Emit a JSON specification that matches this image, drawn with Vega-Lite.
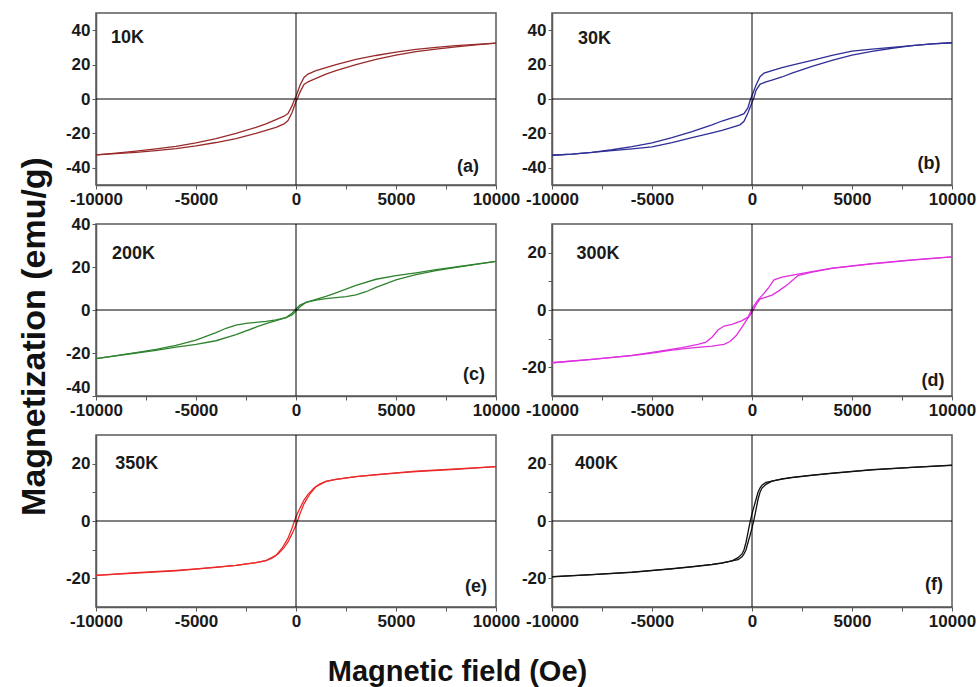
{
 "$schema": "https://vega.github.io/schema/vega-lite/v6.json",
 "padding": {"left": 16, "top": 11, "right": 5, "bottom": 5},
 "background": "white",
 "columns": 2,
 "spacing": {"row": 39, "column": 56},
 "bounds": "flush",
 "datasets": {
  "labels": [
   {"p":"a","H":-8425,"M":35.7,"t":"10K"},{"p":"a","H":8600,"M":-39.8,"t":"(a)"},
   {"p":"b","H":-7875,"M":34.7,"t":"30K"},{"p":"b","H":8850,"M":-37.8,"t":"(b)"},
   {"p":"c","H":-8125,"M":26.1,"t":"200K"},{"p":"c","H":8900,"M":-30,"t":"(c)"},
   {"p":"d","H":-7700,"M":19.6,"t":"300K"},{"p":"d","H":9050,"M":-24.8,"t":"(d)"},
   {"p":"e","H":-7958,"M":20,"t":"350K"},{"p":"e","H":9000,"M":-22.9,"t":"(e)"},
   {"p":"f","H":-7775,"M":20,"t":"400K"},{"p":"f","H":9100,"M":-22.4,"t":"(f)"}
  ],
  "loops": [
   {"p":"a","b":"u","H":10000,"M":32.5},{"p":"a","b":"u","H":9000,"M":31.8},{"p":"a","b":"u","H":8000,"M":31},{"p":"a","b":"u","H":7000,"M":30},{"p":"a","b":"u","H":6000,"M":28.8},{"p":"a","b":"u","H":5000,"M":27.2},{"p":"a","b":"u","H":4000,"M":25.3},{"p":"a","b":"u","H":3000,"M":23},{"p":"a","b":"u","H":2000,"M":20},{"p":"a","b":"u","H":1500,"M":18.3},{"p":"a","b":"u","H":1000,"M":16.5},{"p":"a","b":"u","H":600,"M":14.5},{"p":"a","b":"u","H":400,"M":12.5},{"p":"a","b":"u","H":200,"M":8},{"p":"a","b":"u","H":0,"M":1.5},{"p":"a","b":"u","H":-100,"M":-1},{"p":"a","b":"u","H":-200,"M":-4},{"p":"a","b":"u","H":-400,"M":-8.5},{"p":"a","b":"u","H":-600,"M":-10},{"p":"a","b":"u","H":-1000,"M":-12},{"p":"a","b":"u","H":-1500,"M":-14.5},{"p":"a","b":"u","H":-2000,"M":-16.5},{"p":"a","b":"u","H":-3000,"M":-20},{"p":"a","b":"u","H":-4000,"M":-23},{"p":"a","b":"u","H":-5000,"M":-25.5},{"p":"a","b":"u","H":-6000,"M":-27.5},{"p":"a","b":"u","H":-7000,"M":-29},{"p":"a","b":"u","H":-8000,"M":-30.3},{"p":"a","b":"u","H":-9000,"M":-31.5},{"p":"a","b":"u","H":-10000,"M":-32.5},
   {"p":"a","b":"l","H":-10000,"M":-32.5},{"p":"a","b":"l","H":-9000,"M":-31.8},{"p":"a","b":"l","H":-8000,"M":-31},{"p":"a","b":"l","H":-7000,"M":-30},{"p":"a","b":"l","H":-6000,"M":-28.8},{"p":"a","b":"l","H":-5000,"M":-27.2},{"p":"a","b":"l","H":-4000,"M":-25.3},{"p":"a","b":"l","H":-3000,"M":-23},{"p":"a","b":"l","H":-2000,"M":-20},{"p":"a","b":"l","H":-1500,"M":-18.3},{"p":"a","b":"l","H":-1000,"M":-16.5},{"p":"a","b":"l","H":-600,"M":-14.5},{"p":"a","b":"l","H":-400,"M":-12.5},{"p":"a","b":"l","H":-200,"M":-8},{"p":"a","b":"l","H":0,"M":-1.5},{"p":"a","b":"l","H":100,"M":1},{"p":"a","b":"l","H":200,"M":4},{"p":"a","b":"l","H":400,"M":8.5},{"p":"a","b":"l","H":600,"M":10},{"p":"a","b":"l","H":1000,"M":12},{"p":"a","b":"l","H":1500,"M":14.5},{"p":"a","b":"l","H":2000,"M":16.5},{"p":"a","b":"l","H":3000,"M":20},{"p":"a","b":"l","H":4000,"M":23},{"p":"a","b":"l","H":5000,"M":25.5},{"p":"a","b":"l","H":6000,"M":27.5},{"p":"a","b":"l","H":7000,"M":29},{"p":"a","b":"l","H":8000,"M":30.3},{"p":"a","b":"l","H":9000,"M":31.5},{"p":"a","b":"l","H":10000,"M":32.5},

   {"p":"b","b":"u","H":10000,"M":32.7},{"p":"b","b":"u","H":9000,"M":32},{"p":"b","b":"u","H":8000,"M":31},{"p":"b","b":"u","H":7000,"M":30},{"p":"b","b":"u","H":6000,"M":29},{"p":"b","b":"u","H":5000,"M":27.8},{"p":"b","b":"u","H":4000,"M":25.3},{"p":"b","b":"u","H":3000,"M":22.5},{"p":"b","b":"u","H":2000,"M":19.7},{"p":"b","b":"u","H":1500,"M":18.3},{"p":"b","b":"u","H":1000,"M":16.5},{"p":"b","b":"u","H":600,"M":15},{"p":"b","b":"u","H":400,"M":13},{"p":"b","b":"u","H":200,"M":8},{"p":"b","b":"u","H":0,"M":2},{"p":"b","b":"u","H":-100,"M":-1},{"p":"b","b":"u","H":-200,"M":-5},{"p":"b","b":"u","H":-400,"M":-8.5},{"p":"b","b":"u","H":-700,"M":-10},{"p":"b","b":"u","H":-1000,"M":-11},{"p":"b","b":"u","H":-1500,"M":-12.8},{"p":"b","b":"u","H":-2000,"M":-15},{"p":"b","b":"u","H":-3000,"M":-19},{"p":"b","b":"u","H":-4000,"M":-22.5},{"p":"b","b":"u","H":-5000,"M":-25.5},{"p":"b","b":"u","H":-6000,"M":-27.7},{"p":"b","b":"u","H":-7000,"M":-29.5},{"p":"b","b":"u","H":-8000,"M":-31},{"p":"b","b":"u","H":-9000,"M":-32},{"p":"b","b":"u","H":-10000,"M":-32.7},
   {"p":"b","b":"l","H":-10000,"M":-32.7},{"p":"b","b":"l","H":-9000,"M":-32},{"p":"b","b":"l","H":-8000,"M":-31},{"p":"b","b":"l","H":-7000,"M":-30},{"p":"b","b":"l","H":-6000,"M":-29},{"p":"b","b":"l","H":-5000,"M":-27.8},{"p":"b","b":"l","H":-4000,"M":-25.3},{"p":"b","b":"l","H":-3000,"M":-22.5},{"p":"b","b":"l","H":-2000,"M":-19.7},{"p":"b","b":"l","H":-1500,"M":-18.3},{"p":"b","b":"l","H":-1000,"M":-16.5},{"p":"b","b":"l","H":-600,"M":-15},{"p":"b","b":"l","H":-400,"M":-13},{"p":"b","b":"l","H":-200,"M":-8},{"p":"b","b":"l","H":0,"M":-2},{"p":"b","b":"l","H":100,"M":1},{"p":"b","b":"l","H":200,"M":5},{"p":"b","b":"l","H":400,"M":8.5},{"p":"b","b":"l","H":700,"M":10},{"p":"b","b":"l","H":1000,"M":11},{"p":"b","b":"l","H":1500,"M":12.8},{"p":"b","b":"l","H":2000,"M":15},{"p":"b","b":"l","H":3000,"M":19},{"p":"b","b":"l","H":4000,"M":22.5},{"p":"b","b":"l","H":5000,"M":25.5},{"p":"b","b":"l","H":6000,"M":27.7},{"p":"b","b":"l","H":7000,"M":29.5},{"p":"b","b":"l","H":8000,"M":31},{"p":"b","b":"l","H":9000,"M":32},{"p":"b","b":"l","H":10000,"M":32.7},

   {"p":"c","b":"u","H":10000,"M":22.6},{"p":"c","b":"u","H":9000,"M":21.3},{"p":"c","b":"u","H":8000,"M":20},{"p":"c","b":"u","H":7000,"M":18.8},{"p":"c","b":"u","H":6000,"M":17.3},{"p":"c","b":"u","H":5000,"M":16},{"p":"c","b":"u","H":4000,"M":14.3},{"p":"c","b":"u","H":3000,"M":11.5},{"p":"c","b":"u","H":2000,"M":8},{"p":"c","b":"u","H":1500,"M":6.3},{"p":"c","b":"u","H":1000,"M":5},{"p":"c","b":"u","H":500,"M":3.5},{"p":"c","b":"u","H":200,"M":2.3},{"p":"c","b":"u","H":0,"M":0.5},{"p":"c","b":"u","H":-200,"M":-1.5},{"p":"c","b":"u","H":-500,"M":-3.5},{"p":"c","b":"u","H":-1000,"M":-4.6},{"p":"c","b":"u","H":-1500,"M":-5.3},{"p":"c","b":"u","H":-2000,"M":-5.8},{"p":"c","b":"u","H":-2500,"M":-6.2},{"p":"c","b":"u","H":-3000,"M":-7},{"p":"c","b":"u","H":-3500,"M":-8.5},{"p":"c","b":"u","H":-4000,"M":-10.5},{"p":"c","b":"u","H":-4500,"M":-12.3},{"p":"c","b":"u","H":-5000,"M":-14},{"p":"c","b":"u","H":-6000,"M":-16.5},{"p":"c","b":"u","H":-7000,"M":-18.3},{"p":"c","b":"u","H":-8000,"M":-19.8},{"p":"c","b":"u","H":-9000,"M":-21.2},{"p":"c","b":"u","H":-10000,"M":-22.6},
   {"p":"c","b":"l","H":-10000,"M":-22.6},{"p":"c","b":"l","H":-9000,"M":-21.3},{"p":"c","b":"l","H":-8000,"M":-20},{"p":"c","b":"l","H":-7000,"M":-18.8},{"p":"c","b":"l","H":-6000,"M":-17.3},{"p":"c","b":"l","H":-5000,"M":-16},{"p":"c","b":"l","H":-4000,"M":-14.3},{"p":"c","b":"l","H":-3000,"M":-11.5},{"p":"c","b":"l","H":-2000,"M":-8},{"p":"c","b":"l","H":-1500,"M":-6.3},{"p":"c","b":"l","H":-1000,"M":-5},{"p":"c","b":"l","H":-500,"M":-3.5},{"p":"c","b":"l","H":-200,"M":-2.3},{"p":"c","b":"l","H":0,"M":-0.5},{"p":"c","b":"l","H":200,"M":1.5},{"p":"c","b":"l","H":500,"M":3.5},{"p":"c","b":"l","H":1000,"M":4.6},{"p":"c","b":"l","H":1500,"M":5.3},{"p":"c","b":"l","H":2000,"M":5.8},{"p":"c","b":"l","H":2500,"M":6.2},{"p":"c","b":"l","H":3000,"M":7},{"p":"c","b":"l","H":3500,"M":8.5},{"p":"c","b":"l","H":4000,"M":10.5},{"p":"c","b":"l","H":4500,"M":12.3},{"p":"c","b":"l","H":5000,"M":14},{"p":"c","b":"l","H":6000,"M":16.5},{"p":"c","b":"l","H":7000,"M":18.3},{"p":"c","b":"l","H":8000,"M":19.8},{"p":"c","b":"l","H":9000,"M":21.2},{"p":"c","b":"l","H":10000,"M":22.6},

   {"p":"d","b":"u","H":10000,"M":18.5},{"p":"d","b":"u","H":8000,"M":17.5},{"p":"d","b":"u","H":6000,"M":16.2},{"p":"d","b":"u","H":5000,"M":15.4},{"p":"d","b":"u","H":4000,"M":14.6},{"p":"d","b":"u","H":3000,"M":13.4},{"p":"d","b":"u","H":2300,"M":12.5},{"p":"d","b":"u","H":1500,"M":11.5},{"p":"d","b":"u","H":1100,"M":10.5},{"p":"d","b":"u","H":800,"M":7.5},{"p":"d","b":"u","H":500,"M":5},{"p":"d","b":"u","H":300,"M":3.5},{"p":"d","b":"u","H":100,"M":1.5},{"p":"d","b":"u","H":0,"M":0.3},{"p":"d","b":"u","H":-200,"M":-2.5},{"p":"d","b":"u","H":-500,"M":-3.7},{"p":"d","b":"u","H":-1000,"M":-5},{"p":"d","b":"u","H":-1400,"M":-5.6},{"p":"d","b":"u","H":-1700,"M":-7},{"p":"d","b":"u","H":-2000,"M":-9.5},{"p":"d","b":"u","H":-2300,"M":-11.2},{"p":"d","b":"u","H":-2700,"M":-12},{"p":"d","b":"u","H":-3500,"M":-13.1},{"p":"d","b":"u","H":-5000,"M":-14.8},{"p":"d","b":"u","H":-6000,"M":-15.8},{"p":"d","b":"u","H":-8000,"M":-17.2},{"p":"d","b":"u","H":-10000,"M":-18.4},
   {"p":"d","b":"l","H":-10000,"M":-18.4},{"p":"d","b":"l","H":-8000,"M":-17.2},{"p":"d","b":"l","H":-6000,"M":-15.9},{"p":"d","b":"l","H":-5000,"M":-15},{"p":"d","b":"l","H":-4000,"M":-14},{"p":"d","b":"l","H":-3000,"M":-13.2},{"p":"d","b":"l","H":-2000,"M":-12.6},{"p":"d","b":"l","H":-1400,"M":-12},{"p":"d","b":"l","H":-1100,"M":-11},{"p":"d","b":"l","H":-800,"M":-9},{"p":"d","b":"l","H":-500,"M":-6},{"p":"d","b":"l","H":-300,"M":-3.8},{"p":"d","b":"l","H":0,"M":-0.8},{"p":"d","b":"l","H":200,"M":1.8},{"p":"d","b":"l","H":400,"M":3.8},{"p":"d","b":"l","H":700,"M":4.5},{"p":"d","b":"l","H":1000,"M":5.2},{"p":"d","b":"l","H":1300,"M":6.5},{"p":"d","b":"l","H":1800,"M":9},{"p":"d","b":"l","H":2300,"M":12},{"p":"d","b":"l","H":3000,"M":13.2},{"p":"d","b":"l","H":4000,"M":14.5},{"p":"d","b":"l","H":5000,"M":15.3},{"p":"d","b":"l","H":6000,"M":16.1},{"p":"d","b":"l","H":8000,"M":17.4},{"p":"d","b":"l","H":10000,"M":18.5},

   {"p":"e","b":"u","H":10000,"M":19},{"p":"e","b":"u","H":8000,"M":18},{"p":"e","b":"u","H":6000,"M":17.2},{"p":"e","b":"u","H":5000,"M":16.7},{"p":"e","b":"u","H":4000,"M":16.1},{"p":"e","b":"u","H":3000,"M":15.5},{"p":"e","b":"u","H":2000,"M":14.5},{"p":"e","b":"u","H":1500,"M":13.8},{"p":"e","b":"u","H":1200,"M":13},{"p":"e","b":"u","H":900,"M":11.5},{"p":"e","b":"u","H":600,"M":9.3},{"p":"e","b":"u","H":400,"M":7.3},{"p":"e","b":"u","H":200,"M":4.5},{"p":"e","b":"u","H":0,"M":1.5},{"p":"e","b":"u","H":-200,"M":-2.5},{"p":"e","b":"u","H":-400,"M":-6},{"p":"e","b":"u","H":-700,"M":-9.5},{"p":"e","b":"u","H":-1000,"M":-12},{"p":"e","b":"u","H":-1500,"M":-13.8},{"p":"e","b":"u","H":-2000,"M":-14.5},{"p":"e","b":"u","H":-3000,"M":-15.5},{"p":"e","b":"u","H":-4000,"M":-16.2},{"p":"e","b":"u","H":-5000,"M":-16.8},{"p":"e","b":"u","H":-6000,"M":-17.4},{"p":"e","b":"u","H":-8000,"M":-18.2},{"p":"e","b":"u","H":-10000,"M":-19},
   {"p":"e","b":"l","H":-10000,"M":-19},{"p":"e","b":"l","H":-8000,"M":-18},{"p":"e","b":"l","H":-6000,"M":-17.2},{"p":"e","b":"l","H":-5000,"M":-16.7},{"p":"e","b":"l","H":-4000,"M":-16.1},{"p":"e","b":"l","H":-3000,"M":-15.5},{"p":"e","b":"l","H":-2000,"M":-14.5},{"p":"e","b":"l","H":-1500,"M":-13.8},{"p":"e","b":"l","H":-1200,"M":-13},{"p":"e","b":"l","H":-900,"M":-11.5},{"p":"e","b":"l","H":-600,"M":-9.3},{"p":"e","b":"l","H":-400,"M":-7.3},{"p":"e","b":"l","H":-200,"M":-4.5},{"p":"e","b":"l","H":0,"M":-1.5},{"p":"e","b":"l","H":200,"M":2.5},{"p":"e","b":"l","H":400,"M":6},{"p":"e","b":"l","H":700,"M":9.5},{"p":"e","b":"l","H":1000,"M":12},{"p":"e","b":"l","H":1500,"M":13.8},{"p":"e","b":"l","H":2000,"M":14.5},{"p":"e","b":"l","H":3000,"M":15.5},{"p":"e","b":"l","H":4000,"M":16.2},{"p":"e","b":"l","H":5000,"M":16.8},{"p":"e","b":"l","H":6000,"M":17.4},{"p":"e","b":"l","H":8000,"M":18.2},{"p":"e","b":"l","H":10000,"M":19},

   {"p":"f","b":"u","H":10000,"M":19.4},{"p":"f","b":"u","H":8000,"M":18.7},{"p":"f","b":"u","H":6000,"M":17.8},{"p":"f","b":"u","H":5000,"M":17.2},{"p":"f","b":"u","H":4000,"M":16.6},{"p":"f","b":"u","H":3000,"M":15.9},{"p":"f","b":"u","H":2000,"M":15.1},{"p":"f","b":"u","H":1500,"M":14.6},{"p":"f","b":"u","H":1000,"M":13.9},{"p":"f","b":"u","H":700,"M":13.5},{"p":"f","b":"u","H":500,"M":12.5},{"p":"f","b":"u","H":400,"M":11.5},{"p":"f","b":"u","H":300,"M":10},{"p":"f","b":"u","H":200,"M":7.5},{"p":"f","b":"u","H":100,"M":5},{"p":"f","b":"u","H":0,"M":2.5},{"p":"f","b":"u","H":-100,"M":-0.5},{"p":"f","b":"u","H":-200,"M":-4},{"p":"f","b":"u","H":-300,"M":-7.5},{"p":"f","b":"u","H":-400,"M":-10},{"p":"f","b":"u","H":-500,"M":-11.5},{"p":"f","b":"u","H":-700,"M":-12.8},{"p":"f","b":"u","H":-1000,"M":-13.9},{"p":"f","b":"u","H":-1500,"M":-14.7},{"p":"f","b":"u","H":-2000,"M":-15.2},{"p":"f","b":"u","H":-3000,"M":-16},{"p":"f","b":"u","H":-4000,"M":-16.7},{"p":"f","b":"u","H":-5000,"M":-17.3},{"p":"f","b":"u","H":-6000,"M":-17.9},{"p":"f","b":"u","H":-8000,"M":-18.7},{"p":"f","b":"u","H":-10000,"M":-19.5},
   {"p":"f","b":"l","H":-10000,"M":-19.4},{"p":"f","b":"l","H":-8000,"M":-18.7},{"p":"f","b":"l","H":-6000,"M":-17.8},{"p":"f","b":"l","H":-5000,"M":-17.2},{"p":"f","b":"l","H":-4000,"M":-16.6},{"p":"f","b":"l","H":-3000,"M":-15.9},{"p":"f","b":"l","H":-2000,"M":-15.1},{"p":"f","b":"l","H":-1500,"M":-14.6},{"p":"f","b":"l","H":-1000,"M":-13.9},{"p":"f","b":"l","H":-700,"M":-13.5},{"p":"f","b":"l","H":-500,"M":-12.5},{"p":"f","b":"l","H":-400,"M":-11.5},{"p":"f","b":"l","H":-300,"M":-10},{"p":"f","b":"l","H":-200,"M":-7.5},{"p":"f","b":"l","H":-100,"M":-5},{"p":"f","b":"l","H":0,"M":-2.5},{"p":"f","b":"l","H":100,"M":0.5},{"p":"f","b":"l","H":200,"M":4},{"p":"f","b":"l","H":300,"M":7.5},{"p":"f","b":"l","H":400,"M":10},{"p":"f","b":"l","H":500,"M":11.5},{"p":"f","b":"l","H":700,"M":12.8},{"p":"f","b":"l","H":1000,"M":13.9},{"p":"f","b":"l","H":1500,"M":14.7},{"p":"f","b":"l","H":2000,"M":15.2},{"p":"f","b":"l","H":3000,"M":16},{"p":"f","b":"l","H":4000,"M":16.7},{"p":"f","b":"l","H":5000,"M":17.3},{"p":"f","b":"l","H":6000,"M":17.9},{"p":"f","b":"l","H":8000,"M":18.7},{"p":"f","b":"l","H":10000,"M":19.5}
  ]
 },
 "concat": [
  {"width": 400, "height": 172,
   "layer": [
    {"data": {"name": "loops"}, "transform": [{"filter": "datum.p === 'a'"}],
     "mark": {"type": "line", "color": "#982a2a", "strokeWidth": 1.3},
     "encoding": {
      "x": {"field": "H", "type": "quantitative", "scale": {"domain": [-10000, 10000], "nice": false},
            "axis": {"title": null, "values": [-10000,-7500,-5000,-2500,0,2500,5000,7500,10000], "labelExpr": "datum.value % 5000 === 0 ? '' + datum.value : ''"}},
      "y": {"field": "M", "type": "quantitative", "scale": {"domain": [-50, 50], "nice": false},
            "axis": {"title": null, "values": [-40,-30,-20,-10,0,10,20,30,40], "labelExpr": "datum.value % 20 === 0 ? '' + datum.value : ''"}},
      "detail": {"field": "b"}}},
    {"data": {"values": [{"z": 0}]}, "mark": {"type": "rule", "color": "#000", "strokeWidth": 1}, "encoding": {"x": {"field": "z", "type": "quantitative"}}},
    {"data": {"values": [{"z": 0}]}, "mark": {"type": "rule", "color": "#000", "strokeWidth": 1}, "encoding": {"y": {"field": "z", "type": "quantitative"}}},
    {"data": {"name": "labels"}, "transform": [{"filter": "datum.p === 'a'"}],
     "mark": {"type": "text", "font": "Liberation Sans", "fontWeight": "bold", "fontSize": 18, "color": "#1a1a1a", "align": "center", "baseline": "middle"},
     "encoding": {"x": {"field": "H", "type": "quantitative"}, "y": {"field": "M", "type": "quantitative"}, "text": {"field": "t"}}}
   ]},
  {"width": 400, "height": 172,
   "layer": [
    {"data": {"name": "loops"}, "transform": [{"filter": "datum.p === 'b'"}],
     "mark": {"type": "line", "color": "#2e2e96", "strokeWidth": 1.3},
     "encoding": {
      "x": {"field": "H", "type": "quantitative", "scale": {"domain": [-10000, 10000], "nice": false},
            "axis": {"title": null, "values": [-10000,-7500,-5000,-2500,0,2500,5000,7500,10000], "labelExpr": "datum.value % 5000 === 0 ? '' + datum.value : ''"}},
      "y": {"field": "M", "type": "quantitative", "scale": {"domain": [-50, 50], "nice": false},
            "axis": {"title": null, "values": [-40,-30,-20,-10,0,10,20,30,40], "labelExpr": "datum.value % 20 === 0 ? '' + datum.value : ''"}},
      "detail": {"field": "b"}}},
    {"data": {"values": [{"z": 0}]}, "mark": {"type": "rule", "color": "#000", "strokeWidth": 1}, "encoding": {"x": {"field": "z", "type": "quantitative"}}},
    {"data": {"values": [{"z": 0}]}, "mark": {"type": "rule", "color": "#000", "strokeWidth": 1}, "encoding": {"y": {"field": "z", "type": "quantitative"}}},
    {"data": {"name": "labels"}, "transform": [{"filter": "datum.p === 'b'"}],
     "mark": {"type": "text", "font": "Liberation Sans", "fontWeight": "bold", "fontSize": 18, "color": "#1a1a1a", "align": "center", "baseline": "middle"},
     "encoding": {"x": {"field": "H", "type": "quantitative"}, "y": {"field": "M", "type": "quantitative"}, "text": {"field": "t"}}}
   ]},
  {"width": 400, "height": 172,
   "layer": [
    {"data": {"name": "loops"}, "transform": [{"filter": "datum.p === 'c'"}],
     "mark": {"type": "line", "color": "#2f832f", "strokeWidth": 1.3},
     "encoding": {
      "x": {"field": "H", "type": "quantitative", "scale": {"domain": [-10000, 10000], "nice": false},
            "axis": {"title": null, "values": [-10000,-7500,-5000,-2500,0,2500,5000,7500,10000], "labelExpr": "datum.value % 5000 === 0 ? '' + datum.value : ''"}},
      "y": {"field": "M", "type": "quantitative", "scale": {"domain": [-40, 40], "nice": false},
            "axis": {"title": "Magnetization (emu/g)", "titleFontSize": 34, "titleFontWeight": "bold", "titleColor": "#111", "titleAngle": 270, "titleX": -52, "titleY": 112, "titleAlign": "center", "titleBaseline": "alphabetic",
                     "values": [-40,-30,-20,-10,0,10,20,30,40], "labelExpr": "datum.value % 20 === 0 ? '' + datum.value : ''",
                     "labelBaseline": {"condition": {"test": "datum.value === -40", "value": "bottom"}, "value": "middle"}}},
      "detail": {"field": "b"}}},
    {"data": {"values": [{"z": 0}]}, "mark": {"type": "rule", "color": "#000", "strokeWidth": 1}, "encoding": {"x": {"field": "z", "type": "quantitative"}}},
    {"data": {"values": [{"z": 0}]}, "mark": {"type": "rule", "color": "#000", "strokeWidth": 1}, "encoding": {"y": {"field": "z", "type": "quantitative"}}},
    {"data": {"name": "labels"}, "transform": [{"filter": "datum.p === 'c'"}],
     "mark": {"type": "text", "font": "Liberation Sans", "fontWeight": "bold", "fontSize": 18, "color": "#1a1a1a", "align": "center", "baseline": "middle"},
     "encoding": {"x": {"field": "H", "type": "quantitative"}, "y": {"field": "M", "type": "quantitative"}, "text": {"field": "t"}}}
   ]},
  {"width": 400, "height": 172,
   "layer": [
    {"data": {"name": "loops"}, "transform": [{"filter": "datum.p === 'd'"}],
     "mark": {"type": "line", "color": "#e030e0", "strokeWidth": 1.3},
     "encoding": {
      "x": {"field": "H", "type": "quantitative", "scale": {"domain": [-10000, 10000], "nice": false},
            "axis": {"title": null, "values": [-10000,-7500,-5000,-2500,0,2500,5000,7500,10000], "labelExpr": "datum.value % 5000 === 0 ? '' + datum.value : ''"}},
      "y": {"field": "M", "type": "quantitative", "scale": {"domain": [-30, 30], "nice": false},
            "axis": {"title": null, "values": [-20,-10,0,10,20], "labelExpr": "datum.value % 20 === 0 ? '' + datum.value : ''"}},
      "detail": {"field": "b"}}},
    {"data": {"values": [{"z": 0}]}, "mark": {"type": "rule", "color": "#000", "strokeWidth": 1}, "encoding": {"x": {"field": "z", "type": "quantitative"}}},
    {"data": {"values": [{"z": 0}]}, "mark": {"type": "rule", "color": "#000", "strokeWidth": 1}, "encoding": {"y": {"field": "z", "type": "quantitative"}}},
    {"data": {"name": "labels"}, "transform": [{"filter": "datum.p === 'd'"}],
     "mark": {"type": "text", "font": "Liberation Sans", "fontWeight": "bold", "fontSize": 18, "color": "#1a1a1a", "align": "center", "baseline": "middle"},
     "encoding": {"x": {"field": "H", "type": "quantitative"}, "y": {"field": "M", "type": "quantitative"}, "text": {"field": "t"}}}
   ]},
  {"width": 400, "height": 172,
   "layer": [
    {"data": {"name": "loops"}, "transform": [{"filter": "datum.p === 'e'"}],
     "mark": {"type": "line", "color": "#ec2a2a", "strokeWidth": 1.3},
     "encoding": {
      "x": {"field": "H", "type": "quantitative", "scale": {"domain": [-10000, 10000], "nice": false},
            "axis": {"title": "Magnetic field (Oe)", "titleFontSize": 29, "titleFontWeight": "bold", "titleColor": "#111", "titleX": 361, "titleY": 73, "titleAlign": "center", "titleBaseline": "alphabetic",
                     "values": [-10000,-7500,-5000,-2500,0,2500,5000,7500,10000], "labelExpr": "datum.value % 5000 === 0 ? '' + datum.value : ''"}},
      "y": {"field": "M", "type": "quantitative", "scale": {"domain": [-30, 30], "nice": false},
            "axis": {"title": null, "values": [-20,-10,0,10,20], "labelExpr": "datum.value % 20 === 0 ? '' + datum.value : ''"}},
      "detail": {"field": "b"}}},
    {"data": {"values": [{"z": 0}]}, "mark": {"type": "rule", "color": "#000", "strokeWidth": 1}, "encoding": {"x": {"field": "z", "type": "quantitative"}}},
    {"data": {"values": [{"z": 0}]}, "mark": {"type": "rule", "color": "#000", "strokeWidth": 1}, "encoding": {"y": {"field": "z", "type": "quantitative"}}},
    {"data": {"name": "labels"}, "transform": [{"filter": "datum.p === 'e'"}],
     "mark": {"type": "text", "font": "Liberation Sans", "fontWeight": "bold", "fontSize": 18, "color": "#1a1a1a", "align": "center", "baseline": "middle"},
     "encoding": {"x": {"field": "H", "type": "quantitative"}, "y": {"field": "M", "type": "quantitative"}, "text": {"field": "t"}}}
   ]},
  {"width": 400, "height": 172,
   "layer": [
    {"data": {"name": "loops"}, "transform": [{"filter": "datum.p === 'f'"}],
     "mark": {"type": "line", "color": "#111111", "strokeWidth": 1.3},
     "encoding": {
      "x": {"field": "H", "type": "quantitative", "scale": {"domain": [-10000, 10000], "nice": false},
            "axis": {"title": null, "values": [-10000,-7500,-5000,-2500,0,2500,5000,7500,10000], "labelExpr": "datum.value % 5000 === 0 ? '' + datum.value : ''"}},
      "y": {"field": "M", "type": "quantitative", "scale": {"domain": [-30, 30], "nice": false},
            "axis": {"title": null, "values": [-20,-10,0,10,20], "labelExpr": "datum.value % 20 === 0 ? '' + datum.value : ''"}},
      "detail": {"field": "b"}}},
    {"data": {"values": [{"z": 0}]}, "mark": {"type": "rule", "color": "#000", "strokeWidth": 1}, "encoding": {"x": {"field": "z", "type": "quantitative"}}},
    {"data": {"values": [{"z": 0}]}, "mark": {"type": "rule", "color": "#000", "strokeWidth": 1}, "encoding": {"y": {"field": "z", "type": "quantitative"}}},
    {"data": {"name": "labels"}, "transform": [{"filter": "datum.p === 'f'"}],
     "mark": {"type": "text", "font": "Liberation Sans", "fontWeight": "bold", "fontSize": 18, "color": "#1a1a1a", "align": "center", "baseline": "middle"},
     "encoding": {"x": {"field": "H", "type": "quantitative"}, "y": {"field": "M", "type": "quantitative"}, "text": {"field": "t"}}}
   ]}
 ],
 "config": {
  "font": "Liberation Sans",
  "view": {"stroke": "#5a5a5a", "strokeWidth": 1.5},
  "axis": {"domainColor": "#5a5a5a", "domainWidth": 1.5, "tickColor": "#5a5a5a", "tickWidth": 1, "tickSize": 4,
           "labelFont": "Liberation Sans", "labelFontWeight": "bold", "labelFontSize": 17, "labelColor": "#1a1a1a",
           "labelPadding": 2, "grid": false, "labelFlush": false, "labelOverlap": false, "labelBound": false,
           "titleFont": "Liberation Sans"}
 }
}
